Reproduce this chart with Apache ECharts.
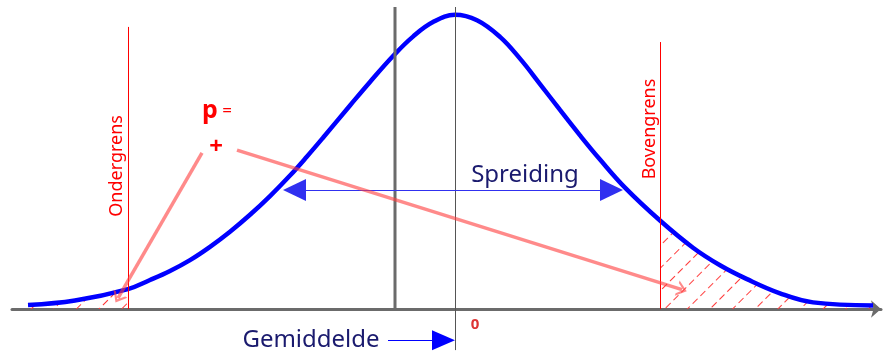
<!DOCTYPE html>
<html>

<head lang="nl">
  <meta charset="UTF-8">
  <title>Normale verdeling</title>
  <script src="https://cdn.jsdelivr.net/npm/echarts@6/dist/echarts.min.js"></script>
  <style>
  html, body {
    margin: 0;
    padding: 0;
    background: #fff;
  }
  #main {
    width: 886px;
    height: 351px;
  }
  </style>
</head>

<body>
  <div id="main"></div>
</body>
<script>
// curve (x: 1 unit ~ 100px, y: height above the axis)
var curveX = [-4.27, -3.80, -3.27, -3.05, -2.85, -2.65, -2.45, -2.25, -2.05, -1.85, -1.65, -1.48, -1.32,
  -1.05, -0.85, -0.61, -0.42, -0.22, 0, 0.22, 0.45, 0.65, 0.85, 1.05, 1.25, 1.45, 1.70, 2.05, 2.38,
  2.65, 2.92, 3.25, 3.58, 4.18];
var curveY = [1.3, 2.8, 6.6, 9.6, 12.6, 16.2, 20.6, 25.6, 31.2, 37.4, 44.2, 50.5, 56.7,
  67.4, 75.2, 84.1, 90.2, 95.0, 97.4, 95.6, 90.1, 82.9, 74.5, 65.9, 57.5, 49.5, 40.2, 29.3, 20.3,
  14.5, 9.9, 5.2, 2.2, 1.2];

var lowerLimit = -3.27;   // ondergrens
var upperLimit = 2.05;    // bovengrens
var meanValue = 0;        // gemiddelde
var yAxisPos = -0.6;      // verticale as
var spreadLeft = -1.605, spreadRight = 1.565, spreadHeight = 39.4;
var tickLabel = '0';

var curve = curveX.map(function(x, i) { return [x, curveY[i]]; });
var leftTail = curve.filter(function(p) { return p[0] <= lowerLimit; });
var rightTail = curve.filter(function(p) { return p[0] >= upperLimit; });

var red = '#ff0000';
var navy = '#1a1a6e';
var pink = 'rgba(255,60,60,0.6)';
var chevron = 'path://M0,10 L8,0 L16,10 L13.4,10 L8,3.6 L2.6,10 Z';
var font = 'Noto Sans';

var hatch = {
  symbol: 'rect',
  symbolSize: 1,
  color: '#ff3b3b',
  dashArrayX: [7, 4],
  dashArrayY: [1, 15],
  rotation: -Math.PI / 4
};

function tail(data) {
  return {
    type: 'line',
    data: data,
    smooth: 0.4,
    showSymbol: false,
    silent: true,
    z: 2,
    lineStyle: { width: 0, decal: hatch },
    itemStyle: { decal: hatch },
    areaStyle: { color: 'rgba(255,255,255,0)', opacity: 1 }
  };
}

function note(x, y, text, extra) {
  var label = {
    show: true,
    position: 'inside',
    formatter: text,
    fontFamily: font
  };
  for (var k in extra) label[k] = extra[k];
  return {
    coord: [x, y],
    symbol: 'rect',
    symbolSize: 1,
    itemStyle: { color: 'rgba(0,0,0,0)' },
    label: label
  };
}

var myChart = echarts.init(document.getElementById('main'));

var option = {
  animation: false,
  grid: { left: 12, right: 5, top: 7, bottom: 0, containLabel: false, outerBoundsMode: 'none' },
  xAxis: {
    type: 'value',
    min: -4.43,
    max: 4.26,
    axisLine: {
      onZero: true,
      symbol: ['none', 'arrow'],
      symbolSize: [13, 10],
      lineStyle: { color: '#6b6b6b', width: 3 }
    },
    axisTick: { show: false },
    splitLine: { show: false },
    axisLabel: { show: false }
  },
  yAxis: { type: 'value', min: -13.9, max: 100, show: false },
  series: [
    tail(leftTail),
    tail(rightTail),
    {
      // gemiddelde lijn + grenzen
      type: 'line',
      data: [],
      clip: false,
      markLine: {
        silent: true,
        symbol: 'none',
        label: { show: false },
        data: [
          [{ coord: [meanValue, 100], lineStyle: { color: '#555', width: 1, type: 'solid' } }, { coord: [meanValue, -13.6] }],
          [{ coord: [lowerLimit, 93.4], lineStyle: { color: red, width: 1, type: 'solid' } }, { coord: [lowerLimit, 0] }],
          [{ coord: [upperLimit, 88.4], lineStyle: { color: red, width: 1, type: 'solid' } }, { coord: [upperLimit, 0] }]
        ]
      }
    },
    {
      name: 'curve',
      type: 'line',
      data: curve,
      smooth: 0.4,
      showSymbol: false,
      z: 3,
      lineStyle: { color: '#0000ff', width: 4.5 }
    },
    {
      type: 'line',
      data: [[yAxisPos, 0], [yAxisPos, 100]],
      showSymbol: false,
      z: 4,
      lineStyle: { color: '#6b6b6b', width: 3 }
    },
    {
      // pijlen en teksten
      type: 'line',
      data: [],
      clip: false,
      z: 5,
      markLine: {
        silent: true,
        label: { show: false },
        data: [
          [{ coord: [spreadLeft, spreadHeight], symbol: 'triangle', symbolSize: [22, 23],
             itemStyle: { color: '#3b3bff' }, lineStyle: { color: '#3030f0', width: 1, type: 'solid' } },
           { coord: [spreadRight, spreadHeight], symbol: 'triangle', symbolSize: [22, 23], itemStyle: { color: '#3b3bff' } }],
          [{ coord: [-0.67, -10.3], symbol: 'none', lineStyle: { color: '#0000ff', width: 1, type: 'solid' } },
           { coord: [-0.115, -10.3], symbol: 'triangle', symbolSize: [20, 23], itemStyle: { color: '#0000ff' } }],
          [{ coord: [-2.53, 51.7], symbol: 'none', lineStyle: { color: pink, width: 3.5, type: 'solid' } },
           { coord: [-3.37, 3.6], symbol: chevron, symbolSize: [16, 10], itemStyle: { color: pink } }],
          [{ coord: [-2.18, 52.6], symbol: 'none', lineStyle: { color: pink, width: 3.5, type: 'solid' } },
           { coord: [2.27, 6.4], symbol: chevron, symbolSize: [16, 10], itemStyle: { color: pink } }]
        ]
      },
      markPoint: {
        silent: true,
        data: [
          note(-3.38, 47.4, 'Ondergrens', { color: red, fontSize: 18, rotate: 90 }),
          note(1.95, 59.6, 'Bovengrens', { color: red, fontSize: 18, rotate: 90 }),
          note(0.70, 44.4, 'Spreiding', { color: navy, fontSize: 24 }),
          note(-1.44, -10.3, 'Gemiddelde', { color: navy, fontSize: 24 }),
          note(0.20, -5.3, tickLabel, { color: '#dd3333', fontSize: 15, fontWeight: 'bold' }),
          note(-2.38, 65.6, '{p|p}{e| =}', {
            rich: {
              p: { color: red, fontSize: 25, fontWeight: 'bold', fontFamily: font },
              e: { color: red, fontSize: 17, fontFamily: font }
            }
          }),
          note(-2.39, 53.6, '+', { color: red, fontSize: 24, fontWeight: 'bold' })
        ]
      }
    }
  ]
};

myChart.setOption(option);
</script>

</html>
